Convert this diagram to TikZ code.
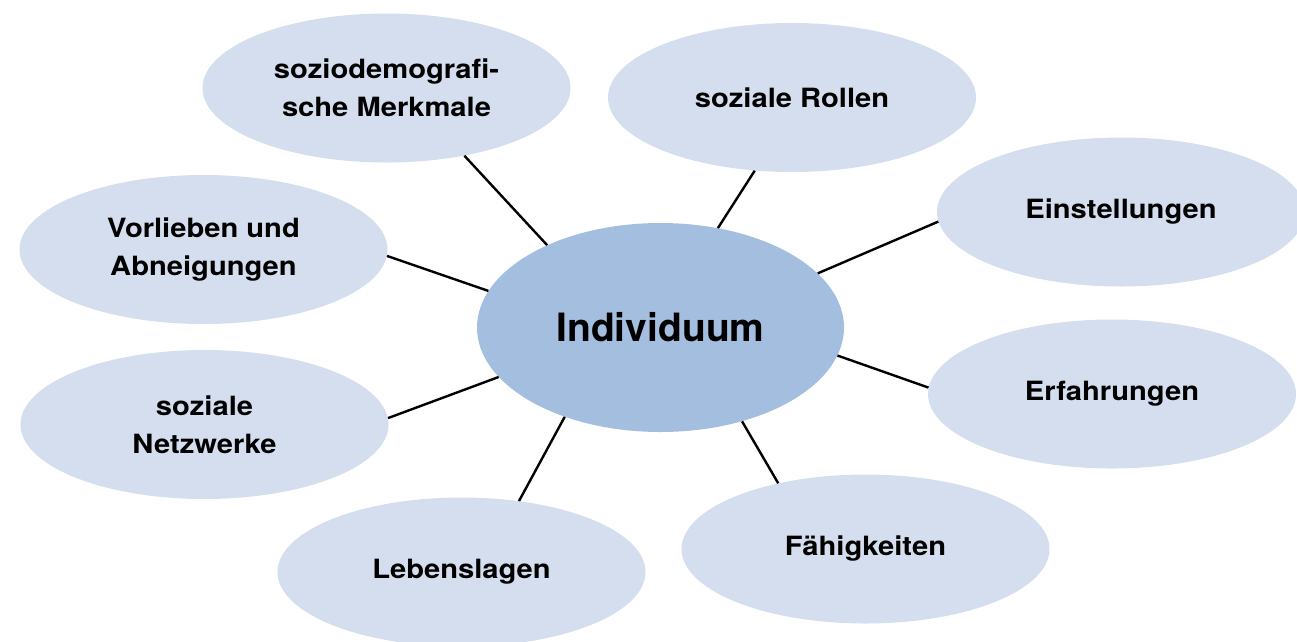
\documentclass[tikz,border=0pt]{standalone}
\usepackage{fontspec}
\setmainfont{TeX Gyre Heros}
\newfontfamily\outerfont{TeX Gyre Heros}[FakeStretch=1.1]
\usetikzlibrary{shapes.geometric}
\definecolor{outerfill}{HTML}{D5DEEE}
\definecolor{innerfill}{HTML}{A4BEDF}
\tikzset{
  topic/.style={ellipse, fill=outerfill, draw=none, inner sep=0pt,
    minimum width=368pt, minimum height=149pt, align=center,
    font=\outerfont\bfseries\fontsize{26.5pt}{38pt}\selectfont},
  core/.style={ellipse, fill=innerfill, draw=none, inner sep=0pt,
    minimum width=367pt, minimum height=209pt,
    font=\bfseries\fontsize{39pt}{46pt}\selectfont},
  link/.style={draw=black, line width=2.4pt}
}
\begin{document}
\begin{tikzpicture}[x=1pt,y=-1pt]
\useasboundingbox (0,0) rectangle (1297,641);
\node[core] (ind) at (660.5,327.5) {Individuum};
\node[topic] (soz) at (386.5,88) {soziodemografi-\\sche Merkmale};
\node[topic] (rol) at (792,97.5) {soziale Rollen};
\node[topic] (ein) at (1121,212) {Einstellungen};
\node[topic] (vor) at (203.5,249.5) {Vorlieben und\\Abneigungen};
\node[topic] (erf) at (1112,394) {Erfahrungen};
\node[topic] (net) at (204.5,424.5) {soziale\\Netzwerke};
\node[topic] (fae) at (865.5,549) {Fähigkeiten};
\node[topic] (leb) at (461.5,572) {Lebenslagen};
\draw[link] (soz.-41.4) -- (ind.144.7);
\draw[link] (rol.-117.8) -- (ind.60.75);
\draw[link] (ein.-177) -- (ind.19.4);
\draw[link] (erf.178) -- (ind.-9);
\draw[link] (fae.143.6) -- (ind.-49.5);
\draw[link] (leb.51.3) -- (ind.-137.4);
\draw[link] (net.2) -- (ind.-163.3);
\draw[link] (vor.-2.8) -- (ind.168.9);
\end{tikzpicture}
\end{document}
